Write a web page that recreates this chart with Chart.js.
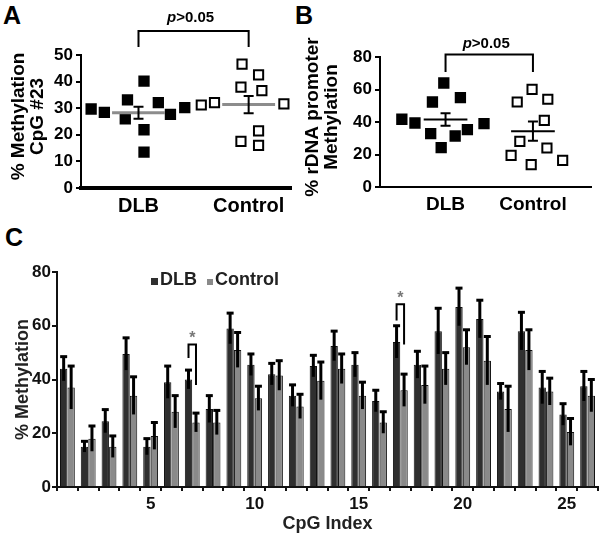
<!DOCTYPE html>
<html>
<head>
<meta charset="utf-8">
<script src="https://cdn.jsdelivr.net/npm/chart.js@4.4.1/dist/chart.umd.min.js"></script>
<style>
  html, body { margin: 0; padding: 0; background: #fff; }
  #fig { position: relative; width: 600px; height: 538px; overflow: hidden; }
  .panel { position: absolute; }
  .tag { position: absolute; font: bold 25px 'Liberation Sans', Arial, sans-serif; color: #000; line-height: 1; }
</style>
</head>
<body>
<div id="fig">
  <div class="tag" style="left:3px;top:3px">A</div>
  <div class="tag" style="left:295px;top:3px">B</div>
  <div class="tag" style="left:5px;top:225px">C</div>
  <div class="panel" style="left:0;top:0"><canvas id="chartA" width="300" height="215"></canvas></div>
  <div class="panel" style="left:300px;top:0"><canvas id="chartB" width="300" height="215"></canvas></div>
  <div class="panel" style="left:0;top:225px"><canvas id="chartC" width="600" height="313"></canvas></div>
</div>
<script>
const FONT = "'Liberation Sans', Arial, sans-serif"
const groups = ['DLB', 'Control']

// Panel A - % methylation at CpG #23, one square per subject (x = column jitter)
const aDlbX = [0.57, 0.69, 0.88, 0.90, 1.05, 1.05, 1.05, 1.18, 1.29, 1.42]
const aDlbY = [29.7, 28.4, 26.0, 33.1, 40.2, 21.9, 13.5, 32.1, 27.7, 30.2]
const aCtrlX = [1.57, 1.69, 1.94, 1.93, 1.93, 2.09, 2.12, 2.09, 2.09, 2.32]
const aCtrlY = [31.2, 32.1, 46.6, 37.9, 17.5, 42.5, 36.6, 21.5, 16.0, 31.6]

// Panel B - rDNA promoter methylation
const bDlbX = [0.50, 0.65, 0.83, 0.85, 0.98, 0.95, 1.11, 1.17, 1.25, 1.44]
const bDlbY = [41.7, 39.4, 32.8, 52.3, 64.0, 24.2, 31.4, 55.0, 35.3, 39.0]
const bCtrlX = [1.99, 1.82, 2.17, 2.13, 1.85, 2.16, 1.75, 1.98, 2.34]
const bCtrlY = [60.1, 52.3, 54.0, 41.0, 28.1, 24.0, 19.5, 13.8, 16.4]

// Panel C - mean % methylation per CpG, +/- SEM
const cpgIndex = [1, 2, 3, 4, 5, 6, 7, 8, 9, 10, 11, 12, 13, 14, 15, 16, 17, 18, 19, 20, 21, 22, 23, 24, 25, 26]
const dlbMean = [44, 15, 24.5, 49.5, 15, 39, 40, 29, 59, 45.5, 42, 34, 45, 52.5, 45.5, 32, 54, 45.5, 58, 67, 62.5, 35.5, 58, 37, 27, 37.5]
const dlbSem = [4.5, 2, 4.3, 6, 3, 6, 3.5, 5, 5.7, 4, 4, 4, 4, 5.5, 4.5, 4, 6, 5, 8.5, 7, 7, 3, 7, 6, 4, 5.5]
const ctrlMean = [37, 18, 15, 34, 19, 28, 24, 24, 51, 33, 41.5, 30, 39.5, 44, 34, 24, 36, 38, 44, 52, 47, 29, 51, 35.5, 20.5, 34]
const ctrlSem = [8, 4.7, 4, 7, 5, 6, 3.5, 4.5, 6.5, 4.5, 5.5, 4.5, 7, 5.5, 5, 4, 6, 7, 6, 6.5, 9, 8.5, 7.5, 5, 5, 6]

// significant CpGs and their bracket heights (value units)
const sigIndex = [7, 17]
const sigTop = [53, 68]
const sigLeftEnd = [48, 62]
const sigRightEnd = [38, 53]

function meanSem(v) {
  const n = v.length
  const m = v.reduce((a, b) => a + b, 0) / n
  const sd = Math.sqrt(v.reduce((a, b) => a + (b - m) ** 2, 0) / (n - 1))
  return { mean: m, sem: sd / Math.sqrt(n) }
}

function pText(ctx, cx, cy) {
  ctx.font = `italic bold 15px ${FONT}`
  const wp = ctx.measureText('p').width
  ctx.font = `bold 15px ${FONT}`
  const wr = ctx.measureText('>0.05').width
  const x0 = cx - (wp + wr) / 2
  ctx.fillStyle = '#000'
  ctx.textBaseline = 'middle'
  ctx.textAlign = 'left'
  ctx.font = `italic bold 15px ${FONT}`
  ctx.fillText('p', x0, cy)
  ctx.font = `bold 15px ${FONT}`
  ctx.fillText('>0.05', x0 + wp, cy)
}

// whiskers, bracket and y title for the column scatter panels
function dotDecor(p, stats) {
  return {
    id: 'dotDecor',
    afterDatasetsDraw(chart) {
      const { ctx, chartArea } = chart
      const x = chart.scales.x, y = chart.scales.y
      ctx.save()
      ctx.strokeStyle = '#000'
      ctx.lineWidth = 2
      stats.forEach((s, i) => {
        const px = x.getPixelForValue(i + 1)
        const top = y.getPixelForValue(s.mean + s.sem)
        const bot = y.getPixelForValue(s.mean - s.sem)
        ctx.beginPath()
        ctx.moveTo(px, top); ctx.lineTo(px, bot)
        ctx.moveTo(px - 5, top); ctx.lineTo(px + 5, top)
        ctx.moveTo(px - 5, bot); ctx.lineTo(px + 5, bot)
        ctx.stroke()
      })

      const x1 = x.getPixelForValue(1), x2 = x.getPixelForValue(2)
      const yt = y.getPixelForValue(p.bracketTop), yl = y.getPixelForValue(p.bracketLeg)
      ctx.beginPath()
      ctx.moveTo(x1, yl); ctx.lineTo(x1, yt); ctx.lineTo(x2, yt); ctx.lineTo(x2, yl)
      ctx.stroke()
      pText(ctx, (x1 + x2) / 2 - 3, yt - p.textGap)

      // two-line rotated axis title (drawn here so it is not squeezed to the axis height)
      const cy = (chartArea.top + chartArea.bottom) / 2 - 5
      ctx.fillStyle = '#000'
      ctx.font = `bold 19px ${FONT}`
      ctx.textAlign = 'center'
      ctx.textBaseline = 'middle'
      p.yTitle.forEach((line, i) => {
        ctx.save()
        ctx.translate(p.titleX + i * 19, cy)
        ctx.rotate(-Math.PI / 2)
        ctx.fillText(line, 0, 0)
        ctx.restore()
      })
      ctx.restore()
    }
  }
}

function columnScatter(id, p) {
  const stats = [meanSem(p.dlbY), meanSem(p.ctrlY)]
  const meanLine = (s, c) => ({
    type: 'line',
    data: [{ x: c - p.meanHalf, y: s.mean }, { x: c + p.meanHalf, y: s.mean }],
    borderColor: p.meanColor,
    borderWidth: p.meanWidth,
    pointRadius: 0
  })

  return new Chart(document.getElementById(id), {
    type: 'scatter',
    data: {
      datasets: [
        meanLine(stats[0], 1),
        meanLine(stats[1], 2),
        {
          label: groups[0],
          data: p.dlbX.map((x, i) => ({ x, y: p.dlbY[i] })),
          pointStyle: 'rect', pointRadius: 8,
          backgroundColor: '#000', borderWidth: 0
        },
        {
          label: groups[1],
          data: p.ctrlX.map((x, i) => ({ x, y: p.ctrlY[i] })),
          pointStyle: 'rect', pointRadius: 6.5,
          backgroundColor: '#fff', borderColor: '#000', borderWidth: 2
        }
      ]
    },
    options: {
      responsive: false,
      animation: false,
      layout: { padding: { top: p.top, right: p.right, left: 0, bottom: 0 } },
      plugins: { legend: { display: false }, tooltip: { enabled: false } },
      scales: {
        x: {
          type: 'linear', min: p.xMin, max: p.xMax,
          afterBuildTicks: s => { s.ticks = [{ value: 1 }, { value: 2 }] },
          afterFit: s => { s.height = p.xAxisH },
          ticks: {
            callback: v => groups[v - 1],
            font: { family: FONT, weight: 'bold', size: p.catSize },
            color: '#000', padding: 6, autoSkip: false, maxRotation: 0
          },
          grid: { display: false, drawTicks: false },
          border: { display: true, color: '#000', width: p.xBorder }
        },
        y: {
          min: 0, max: p.yMax,
          afterFit: s => { s.width = p.yAxisW },
          ticks: {
            stepSize: p.yStep,
            font: { family: FONT, weight: 'bold', size: 17 },
            color: '#000', padding: 3
          },
          grid: { drawOnChartArea: false, tickLength: 5, color: '#000', lineWidth: 2 },
          border: { color: '#000', width: 2 }
        }
      }
    },
    plugins: [dotDecor(p, stats)]
  })
}

columnScatter('chartA', {
  dlbX: aDlbX, dlbY: aDlbY, ctrlX: aCtrlX, ctrlY: aCtrlY,
  xMin: 0.478, xMax: 2.389, yMax: 50, yStep: 10,
  top: 55, right: 3, yAxisW: 81, xAxisH: 27, xBorder: 4,
  meanHalf: 0.24, meanColor: '#8c8c8c', meanWidth: 3,
  bracketTop: 59, bracketLeg: 53, textGap: 13,
  yTitle: ['% Methylation', 'CpG #23'], titleX: 19, catSize: 20
})

columnScatter('chartB', {
  dlbX: bDlbX, dlbY: bDlbY, ctrlX: bCtrlX, ctrlY: bCtrlY,
  xMin: 0.25, xMax: 2.67, yMax: 80, yStep: 20,
  top: 57, right: 7, yAxisW: 80, xAxisH: 28, xBorder: 2,
  meanHalf: 0.25, meanColor: '#000', meanWidth: 2,
  bracketTop: 81.5, bracketLeg: 70.8, textGap: 11,
  yTitle: ['% rDNA promoter', 'Methylation'], titleX: 13, catSize: 19
})

// Panel C plugins: error bars, significance brackets, inline legend
const barErrors = {
  id: 'barErrors',
  afterDatasetsDraw(chart) {
    const { ctx } = chart
    const y = chart.scales.y
    const sems = [dlbSem, ctrlSem]
    ctx.save()
    ctx.strokeStyle = '#000'
    chart.data.datasets.forEach((ds, d) => {
      chart.getDatasetMeta(d).data.forEach((bar, i) => {
        const top = y.getPixelForValue(ds.data[i] + sems[d][i])
        const bot = y.getPixelForValue(ds.data[i] - sems[d][i])
        ctx.lineWidth = 3
        ctx.beginPath()
        ctx.moveTo(bar.x, bot); ctx.lineTo(bar.x, top)
        ctx.stroke()
        ctx.beginPath()
        ctx.moveTo(bar.x - 3.5, top); ctx.lineTo(bar.x + 3.5, top)
        ctx.stroke()
      })
    })
    ctx.restore()
  }
}

const sigBrackets = {
  id: 'sigBrackets',
  afterDatasetsDraw(chart) {
    const { ctx } = chart
    const y = chart.scales.y
    ctx.save()
    ctx.strokeStyle = '#000'
    ctx.lineWidth = 2
    sigIndex.forEach((c, k) => {
      const xl = chart.getDatasetMeta(0).data[c - 1].x
      const xr = chart.getDatasetMeta(1).data[c - 1].x
      const yt = y.getPixelForValue(sigTop[k])
      ctx.beginPath()
      ctx.moveTo(xl, y.getPixelForValue(sigLeftEnd[k]))
      ctx.lineTo(xl, yt); ctx.lineTo(xr, yt)
      ctx.lineTo(xr, y.getPixelForValue(sigRightEnd[k]))
      ctx.stroke()
      ctx.fillStyle = '#777'
      ctx.font = `bold 16px ${FONT}`
      ctx.textAlign = 'center'
      ctx.textBaseline = 'middle'
      ctx.fillText('*', (xl + xr) / 2, yt - 6)
    })
    ctx.restore()
  }
}

const inlineLegend = {
  id: 'inlineLegend',
  afterDraw(chart) {
    const { ctx } = chart
    const items = [{ x: 151, box: 7 }, { x: 207, box: 6 }]
    ctx.save()
    ctx.font = `bold 18px ${FONT}`
    ctx.textBaseline = 'alphabetic'
    ctx.textAlign = 'left'
    chart.data.datasets.forEach((ds, i) => {
      const it = items[i]
      ctx.fillStyle = ds.backgroundColor
      ctx.fillRect(it.x, 60 - it.box, it.box, it.box)
      ctx.fillStyle = '#222'
      ctx.fillText(ds.label, it.x + it.box + 2, 60)
    })
    ctx.restore()
  }
}

new Chart(document.getElementById('chartC'), {
  type: 'bar',
  data: {
    labels: cpgIndex,
    datasets: [
      { label: 'DLB', data: dlbMean, backgroundColor: '#2f2f2f', borderColor: '#111', borderWidth: 1 },
      { label: 'Control', data: ctrlMean, backgroundColor: '#8a8a8a', borderColor: '#111', borderWidth: 1 }
    ]
  },
  options: {
    responsive: false,
    animation: false,
    layout: { padding: { top: 47, right: 2, left: 0, bottom: 0 } },
    datasets: { bar: { barPercentage: 0.98, categoryPercentage: 0.72 } },
    plugins: { legend: { display: false }, tooltip: { enabled: false } },
    scales: {
      x: {
        afterFit: s => { s.height = 51 },
        ticks: {
          autoSkip: false, maxRotation: 0, padding: 3,
          callback: (v, i) => (cpgIndex[i] % 5 === 0 ? String(cpgIndex[i]) : ''),
          font: { family: FONT, weight: 'bold', size: 17 }, color: '#111'
        },
        grid: { drawOnChartArea: false, tickLength: 4, color: '#111', lineWidth: 2 },
        border: { color: '#111', width: 2 },
        title: {
          display: true, text: 'CpG Index', color: '#222',
          font: { family: FONT, weight: 'bold', size: 18 },
          padding: { top: 0, bottom: 3 }
        }
      },
      y: {
        min: 0, max: 80,
        afterFit: s => { s.width = 57 },
        ticks: {
          stepSize: 20, padding: 1,
          font: { family: FONT, weight: 'bold', size: 17 }, color: '#111'
        },
        grid: { drawOnChartArea: false, tickLength: 5, color: '#111', lineWidth: 2 },
        border: { color: '#111', width: 2 },
        title: {
          display: true, text: '% Methylation', color: '#222',
          font: { family: FONT, weight: 'bold', size: 18 },
          padding: { top: 12, bottom: 0 }
        }
      }
    }
  },
  plugins: [barErrors, sigBrackets, inlineLegend]
})
</script>
</body>
</html>
